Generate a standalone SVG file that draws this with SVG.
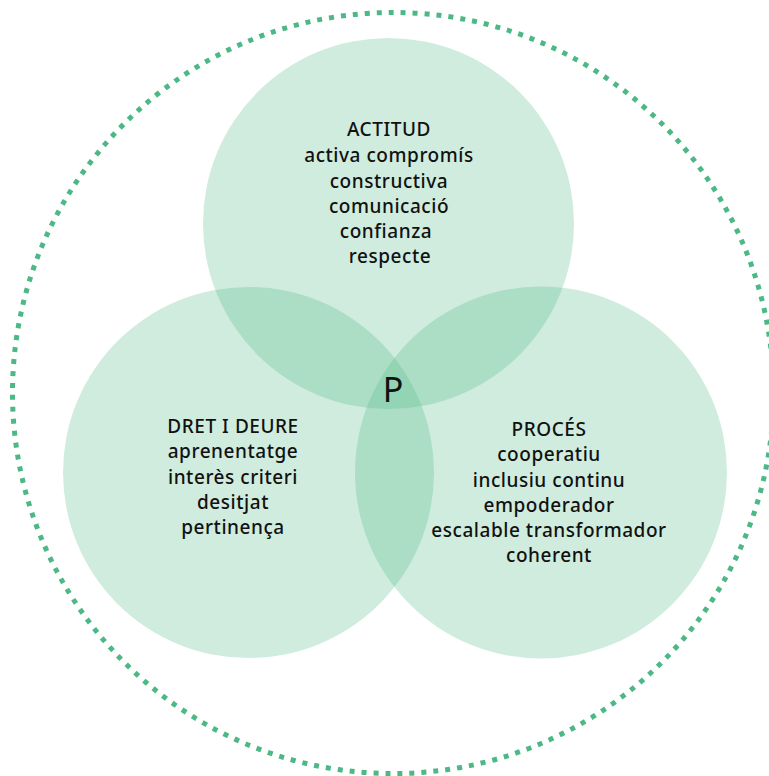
<svg xmlns="http://www.w3.org/2000/svg" width="769" height="776" viewBox="0 0 769 776">
<style>
.c{fill:#4cb886;fill-opacity:0.27}
.t{font-family:"Noto Sans","DejaVu Sans",sans-serif;font-size:19px;font-weight:500;letter-spacing:0.55px;fill:#111;text-anchor:middle}
.p{font-family:"Noto Sans","DejaVu Sans",sans-serif;font-size:34px;fill:#111;text-anchor:middle}
</style>
<rect width="769" height="776" fill="#fff"/>
<g id="outer">
<circle cx="393" cy="393" r="380.5" fill="none" stroke="#4cb886" stroke-width="5" stroke-dasharray="5 7"/>
</g>
<g id="actitud">
<circle class="c" cx="388.5" cy="223.5" r="185.5"/>
<text class="t" x="389" y="136">ACTITUD</text>
<text class="t" x="389" y="162">activa compromís</text>
<text class="t" x="389" y="188">constructiva</text>
<text class="t" x="389" y="213">comunicació</text>
<text class="t" x="386" y="238">confianza</text>
<text class="t" x="390" y="263">respecte</text>
</g>
<g id="dret">
<circle class="c" cx="248.5" cy="472.5" r="185.5"/>
<text class="t" x="233" y="433">DRET I DEURE</text>
<text class="t" x="233" y="458">aprenentatge</text>
<text class="t" x="233" y="484">interès criteri</text>
<text class="t" x="233" y="509">desitjat</text>
<text class="t" x="233" y="534">pertinença</text>
</g>
<g id="proces">
<circle class="c" cx="541" cy="472.5" r="186"/>
<text class="t" x="549" y="436">PROCÉS</text>
<text class="t" x="549" y="461">cooperatiu</text>
<text class="t" x="549" y="487">inclusiu continu</text>
<text class="t" x="549" y="512">empoderador</text>
<text class="t" x="549" y="537">escalable transformador</text>
<text class="t" x="549" y="562">coherent</text>
</g>
<g id="centre">
<text class="p" x="393" y="402">P</text>
</g>
<g id="connectors"/>
</svg>
